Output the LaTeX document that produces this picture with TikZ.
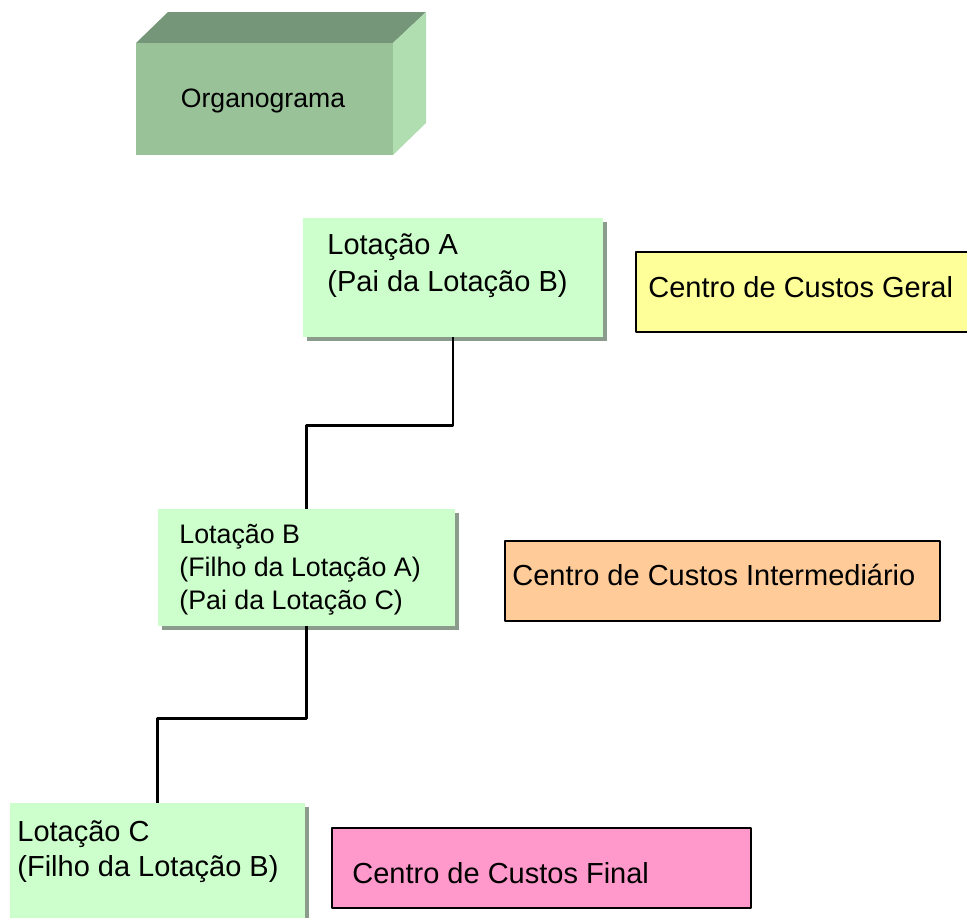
\documentclass[tikz,border=0pt]{standalone}
\usepackage{fontspec}
\setmainfont{Liberation Sans}
\usetikzlibrary{shadows}
\definecolor{orgfront}{RGB}{153,194,153}
\definecolor{orgtop}{RGB}{118,150,122}
\definecolor{orgside}{RGB}{176,222,176}
\definecolor{lotfill}{RGB}{204,255,204}
\definecolor{lotshadow}{RGB}{140,156,140}
\definecolor{geral}{RGB}{255,255,153}
\definecolor{inter}{RGB}{255,204,153}
\definecolor{final}{RGB}{255,153,204}
\begin{document}
\begin{tikzpicture}[x=0.5pt, y=-0.5pt, font=\fontsize{14.5}{18.5}\selectfont, line join=round, line cap=round,
	lotbox/.style={fill=lotfill, inner sep=0, drop shadow={shadow xshift=2pt, shadow yshift=-2pt, fill=lotshadow, opacity=1}},
	custbox/.style={draw, fill=#1, line width=1.4pt, inner sep=0, minimum height=40pt},
	txt/.style={anchor=west, align=left, inner sep=0},
	conn/.style={line width=1.4pt, line cap=butt}]
			\useasboundingbox (0,0) rectangle (967,917);
			% organograma
			\fill[orgtop] (136,43)--(168,12)--(426,12)--(393,43)--cycle;
			\fill[orgside] (393,43)--(426,12)--(426,123)--(393,155)--cycle;
			\fill[orgfront] (136,43) rectangle (393,155);
			\node[font=\fontsize{13.3}{16}\selectfont] (org) at (263,101) {Organograma};
			% lotacoes
			\node[lotbox, minimum width=150pt, minimum height=59.5pt] (la) at (453,277.5) {};
			\node[lotbox, minimum width=148.5pt, minimum height=58.5pt] (lb) at (306.5,567.5) {};
			\node[lotbox, minimum width=147.5pt, minimum height=61pt] (lc) at (157.5,864) {};
			\node[txt] (ta) at (327,266) {Lotação A\\(Pai da Lotação B)};
			\node[txt, font=\fontsize{13.4}{16.5}\selectfont] (tb) at (179,570) {Lotação B\\(Filho da Lotação A)\\(Pai da Lotação C)};
			\node[txt, font=\fontsize{14.5}{17.5}\selectfont] (tc) at (17,852) {Lotação C\\(Filho da Lotação B)};
			\draw[conn] (la.south) -- ++(0,88) -| (lb.north);
			\draw[conn] (lb.south) -- ++(0,92) -| (lc.north);
			% centros de custos
			\node[custbox=geral, minimum width=177pt] (cg) at (813,292) {};
			\node[custbox=inter, minimum width=217.5pt] (ci) at (722.5,581) {};
			\node[custbox=final, minimum width=209.5pt] (cf) at (541.5,868) {};
			\node[txt] (tg) at (648,287) {Centro de Custos Geral};
			\node[txt] (ti) at (512,575) {Centro de Custos Intermediário};
			\node[txt] (tf) at (352,873) {Centro de Custos Final};
		\end{tikzpicture}
\end{document}
